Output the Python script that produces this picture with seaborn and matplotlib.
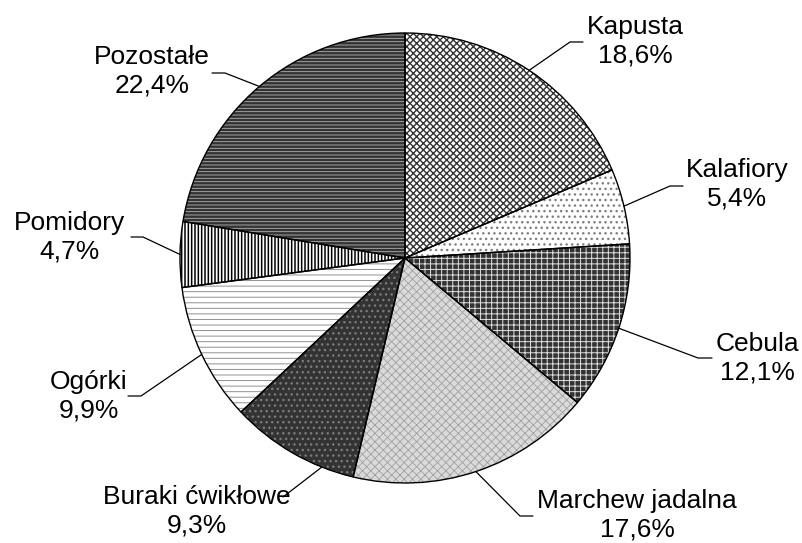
import matplotlib
matplotlib.use('Agg')
import numpy as np
import matplotlib.pyplot as plt
import seaborn as sns

# Dane: udział warzyw (%)
kategorie = ['Kapusta', 'Kalafiory', 'Cebula', 'Marchew jadalna',
             'Buraki ćwikłowe', 'Ogórki', 'Pomidory', 'Pozostałe']
udzialy = [18.6, 5.4, 12.1, 17.6, 9.3, 9.9, 4.7, 22.4]

# Styl wycinków
tla = ['white', 'white', '#333333', '#dadada', '#333333', 'white', 'white', '#333333']
wzory = ['xxxxx', '...', '+++', 'xxxx', '...', '---', '|||||', '-----']
kolory_wzoru = ['#333333', '#808080', '#e0e0e0', '#a0a0a0', '#7a7a7a', '#909090', 'black', '#b4b4b4']
grubosci_wzoru = [1.0, 1.0, 0.7, 0.6, 1.0, 0.7, 1.1, 0.6]

# Położenie etykiet (piksele od góry) i linii odniesienia
poz_etykiet = [(635, 41), (737, 184), (757, 358), (637, 515),
               (197, 511), (89, 396), (70, 237), (152, 71)]
kolanka = [(570, 42), (670, 186), (698, 358), (520, 516),
           (283, 497), (141, 396), (143, 237), (225, 73)]
konce = [(583, 42), (683, 186), (712, 358), (533, 516),
         (283, 497), (128, 396), (131, 237), (212, 73)]
zaczepy = [0.5, 0.5, 0.5, 0.5, 0.75, 0.5, 0.5, 0.5]

sns.set_style('white')
plt.rcParams['font.family'] = ['Liberation Sans', 'DejaVu Sans']
plt.rcParams['hatch.linewidth'] = 0.8

W, H = 803, 543
fig = plt.figure(figsize=(W / 100, H / 100), dpi=100)
ax = fig.add_axes([0, 0, 1, 1])

srodek = (405, H - 258)
promien = 225

# wypełnienie + wzór
wedges, _ = ax.pie(udzialy, startangle=90, counterclock=False, center=srodek,
                   radius=promien, colors=tla, frame=True,
                   wedgeprops=dict(linewidth=0))
for w, h, c, g in zip(wedges, wzory, kolory_wzoru, grubosci_wzoru):
    w.set_hatch(h)
    w.set_edgecolor(c)
    if hasattr(w, 'set_hatch_linewidth'):
        w.set_hatch_linewidth(g)
    else:
        w._hatch_linewidth = g

# obrys
ax.pie(udzialy, startangle=90, counterclock=False, center=srodek, radius=promien,
       frame=True, wedgeprops=dict(fill=False, edgecolor='black', linewidth=1))
ax.set_xlim(0, W)
ax.set_ylim(0, H)
ax.set_aspect('equal')
ax.axis('off')

for w, k, v, p, kol, kon, z in zip(wedges, kategorie, udzialy, poz_etykiet,
                                   kolanka, konce, zaczepy):
    kat = np.deg2rad(w.theta1 + z * (w.theta2 - w.theta1))
    x0 = srodek[0] + promien * np.cos(kat)
    y0 = srodek[1] + promien * np.sin(kat)
    ax.plot([x0, kol[0], kon[0]], [y0, H - kol[1], H - kon[1]], color='black', lw=0.9)
    tekst = f'{k}\n{v:.1f}%'.replace('.', ',')
    ax.text(p[0], H - p[1], tekst, ha='center', va='center', fontsize=19,
            linespacing=1.25, color='black')

fig.savefig('out.png', dpi=100)
